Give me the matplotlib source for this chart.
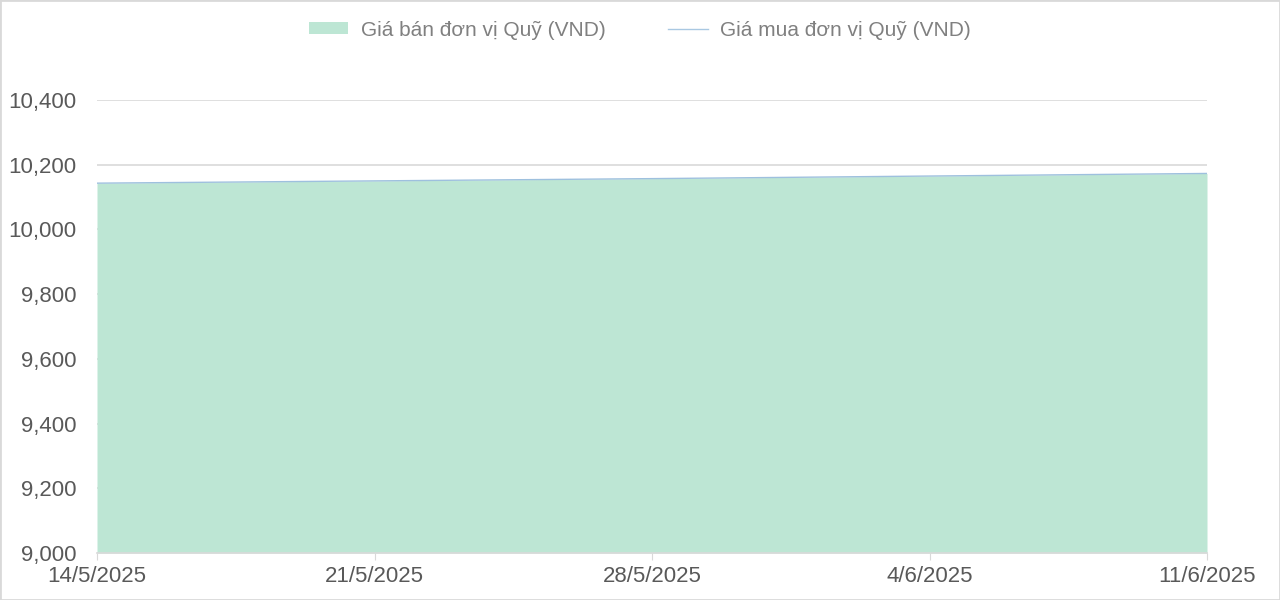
import matplotlib
matplotlib.use("Agg")
import matplotlib.pyplot as plt
from matplotlib.patches import Patch, Rectangle
from matplotlib.lines import Line2D
import datetime as dt

# data
dates = ["14/5/2025", "21/5/2025", "28/5/2025", "4/6/2025", "11/6/2025"]
sell_price = [10143, 10150, 10157, 10165, 10173]
buy_price = [10143, 10150, 10157, 10165, 10173]
y_ticks = [9000, 9200, 9400, 9600, 9800, 10000, 10200, 10400]

plt.rcParams['font.family'] = ['Liberation Sans', 'DejaVu Sans']

x = [dt.datetime.strptime(d, "%d/%m/%Y") for d in dates]

fig = plt.figure(figsize=(12.8, 6.0), dpi=100)
ax = fig.add_axes([97 / 1280, 47 / 600, 1110 / 1280, 453 / 600])

ax.fill_between(x, sell_price, 9000, color='#bde6d4', linewidth=0, zorder=2)
ax.plot(x, buy_price, color='#9ec0de', linewidth=1.0, zorder=3)

ax.set_xlim(x[0], x[-1])
ax.set_ylim(9000, 10400)
ax.set_yticks(y_ticks)
ax.set_yticklabels([f"{v:,}" for v in y_ticks])
ax.set_xticks(x)
ax.set_xticklabels(dates)

ax.grid(axis='y', color='#d9d9d9', linewidth=1.2, zorder=0)
ax.set_axisbelow(True)
for s in ['left', 'right', 'top']:
    ax.spines[s].set_visible(False)
ax.spines['bottom'].set_color('#d9d9d9')
ax.spines['bottom'].set_linewidth(1.2)
ax.tick_params(axis='y', length=0, pad=15, labelsize=16, labelcolor='#595959')
ax.tick_params(axis='x', length=5, color='#d9d9d9', pad=4, labelsize=16, labelcolor='#595959')

handles = [Patch(facecolor='#bde6d4', edgecolor='none'),
           Line2D([0], [0], color='#a9c8e2', linewidth=1.0)]
labels = ["Giá bán đơn vị Quỹ (VND)", "Giá mua đơn vị Quỹ (VND)"]
leg = fig.legend(handles, labels, loc='center', bbox_to_anchor=(0.5, 1 - 30 / 600),
                 ncol=2, frameon=False, fontsize=15, columnspacing=3.0,
                 handlelength=1.9, handleheight=0.45, handletextpad=0.6)
for t in leg.get_texts():
    t.set_color('#808080')

fig.patches.append(Rectangle((0, 0), 1, 1, transform=fig.transFigure, fill=False,
                             edgecolor='#d9d9d9', linewidth=2))

fig.savefig("out.png", dpi=100)
